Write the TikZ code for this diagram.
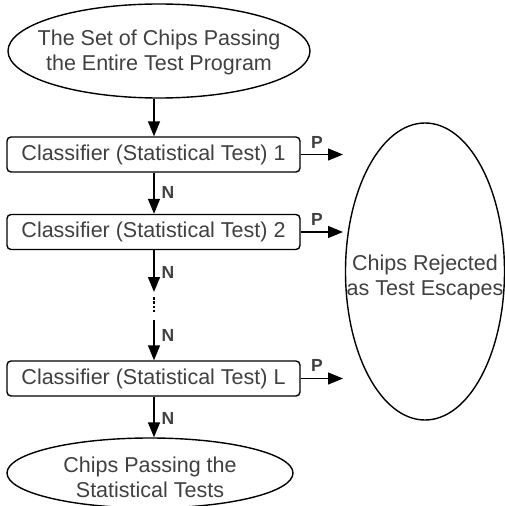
\documentclass[tikz,border=0pt]{standalone}
\usepackage{fontspec}
\setmainfont{Liberation Sans}
\usetikzlibrary{shapes.geometric,arrows.meta}
\definecolor{textgray}{RGB}{64,64,64}
\begin{document}
\begin{tikzpicture}[x=1pt,y=-1pt,
  line width=1.4pt,
  txt/.style={text=textgray,font=\fontsize{21.5}{25}\selectfont,align=center,inner sep=0},
  lab/.style={text=textgray,font=\fontsize{17.5}{18}\selectfont\bfseries,inner sep=0},
  oval/.style={draw,ellipse,inner sep=0},
  clsbox/.style={draw,rounded corners=4pt,minimum width=293pt,minimum height=35pt,inner sep=0,text=textgray,font=\fontsize{21.5}{25}\selectfont},
  arr/.style={-{Triangle[length=15pt,width=12pt]}}]
\useasboundingbox (0,0) rectangle (505,506);
% top ellipse
\node[oval,minimum width=302pt,minimum height=94pt] (top) at (159,51) {};
\node[txt] (toptxt) at (159,52) {The Set of Chips Passing\\the Entire Test Program};
% classifier boxes
\node[clsbox] (c1) at (153.5,154.5) {Classifier (Statistical Test) 1};
\node[clsbox] (c2) at (153.5,232) {Classifier (Statistical Test) 2};
\node[clsbox] (cL) at (153.5,378.5) {Classifier (Statistical Test) L};
% right ellipse
\node[oval,minimum width=159pt,minimum height=297pt] (rej) at (425,271.5) {};
\node[txt] (rejtxt) at (425,277) {Chips Rejected\\as Test Escapes};
% bottom ellipse
\node[oval,minimum width=286pt,minimum height=70pt] (bot) at (150,473) {};
\node[txt] (bottxt) at (150,477) {Chips Passing the\\Statistical Tests};
% coordinates
\coordinate (p1) at (343,154.5);
\coordinate (p2) at (343,232);
\coordinate (pL) at (343,378.5);
\coordinate (d1) at (154,292);
\coordinate (d2) at (154,297);
\coordinate (d3) at (154,313);
\coordinate (d4) at (154,320);
% connectors
\draw[arr] (top.south -| c1.north) ++(0.5,0) coordinate (t0) -- (t0 |- c1.north);
\draw[arr] ([xshift=0.5pt]c1.south) -- ([xshift=0.5pt]c2.north);
\draw[arr] ([xshift=0.5pt]c2.south) -- (d1);
\draw[line width=2pt,dash pattern=on 2.5pt off 1.8pt] (d2) -- (d3);
\draw[arr] (d4) -- ([xshift=0.5pt]cL.north);
\draw[arr] ([xshift=0.5pt]cL.south) -- (bot.north -| d1);
\draw[arr] (c1.east) -- (p1);
\draw[arr] (c2.east) -- (p2);
\draw[arr] (cL.east) -- (pL);
% labels
\node[lab] (n1) at (168,192) {N};
\node[lab] (n2) at (168,272) {N};
\node[lab] (n3) at (168,335) {N};
\node[lab] (n4) at (168,418) {N};
\node[lab] (pp1) at (317,142) {P};
\node[lab] (pp2) at (317,219) {P};
\node[lab] (ppL) at (317,365) {P};
\end{tikzpicture}
\end{document}
